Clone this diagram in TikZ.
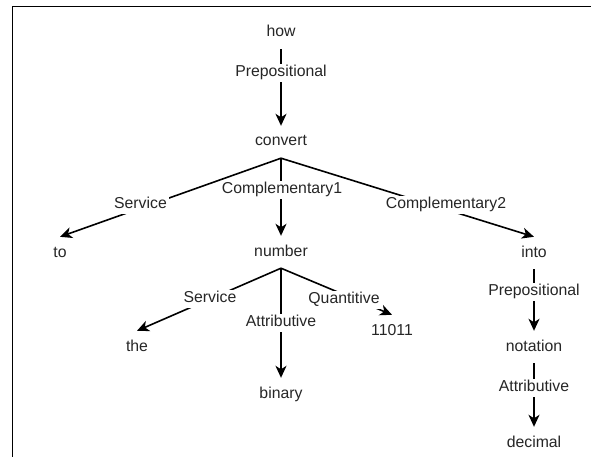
\documentclass[tikz,border=0pt]{standalone}
\usepackage{fontspec}
\setmainfont{Liberation Sans}
\usetikzlibrary{arrows.meta}
\begin{document}
\begin{tikzpicture}[x=1pt,y=-1pt,
  wordnode/.style={inner sep=0pt, minimum height=32pt, text=black!85,
    font=\fontsize{15.8}{18}\selectfont, text height=11pt, text depth=3pt},
  lbl/.style={fill=white, inner sep=2pt, text=black!85,
    font=\fontsize{15.8}{18}\selectfont, text height=11pt, text depth=3.5pt},
  arr/.style={line width=1.6pt, -{Stealth[length=12pt,width=11pt,inset=3.5pt]}}]
\useasboundingbox (0,0) rectangle (591,457);
\fill[white] (0,0) rectangle (591,457);
\draw[line width=1.6pt] (12.5,457) -- (12.5,6.5) -- (591,6.5);

\node[wordnode] (how) at (281,33) {how};
\node[wordnode] (convert) at (281,142) {convert};
\node[wordnode] (to) at (60,253) {to};
\node[wordnode] (number) at (281,252) {number};
\node[wordnode] (into) at (534,253) {into};
\node[wordnode] (the) at (137,347) {the};
\node[wordnode] (binary) at (281,394) {binary};
\node[wordnode] (n11011) at (392,331) {11011};
\node[wordnode] (notation) at (534,347) {notation};
\node[wordnode] (decimal) at (534,443) {decimal};

\draw[arr] (how.south) -- (convert.north)
  node[lbl, at={(281,73)}] {Prepositional};
\draw[arr] (convert.south) -- (to.north)
  node[lbl, at={(140.5,205)}] {Service};
\draw[arr] (convert.south) -- (number.north)
  node[lbl, at={(282,190)}] {Complementary1};
\draw[arr] (convert.south) -- (into.north)
  node[lbl, at={(446,205)}] {Complementary2};
\draw[arr] (number.south) -- (the.north)
  node[lbl, at={(210,299)}] {Service};
\draw[arr] (number.south) -- (binary.north)
  node[lbl, at={(281,323)}] {Attributive};
\draw[arr] (number.south) -- (n11011.north)
  node[lbl, at={(344,300)}] {Quantitive};
\draw[arr] (into.south) -- (notation.north)
  node[lbl, at={(534,292)}] {Prepositional};
\draw[arr] (notation.south) -- (decimal.north)
  node[lbl, at={(534,388)}] {Attributive};
\end{tikzpicture}
\end{document}
